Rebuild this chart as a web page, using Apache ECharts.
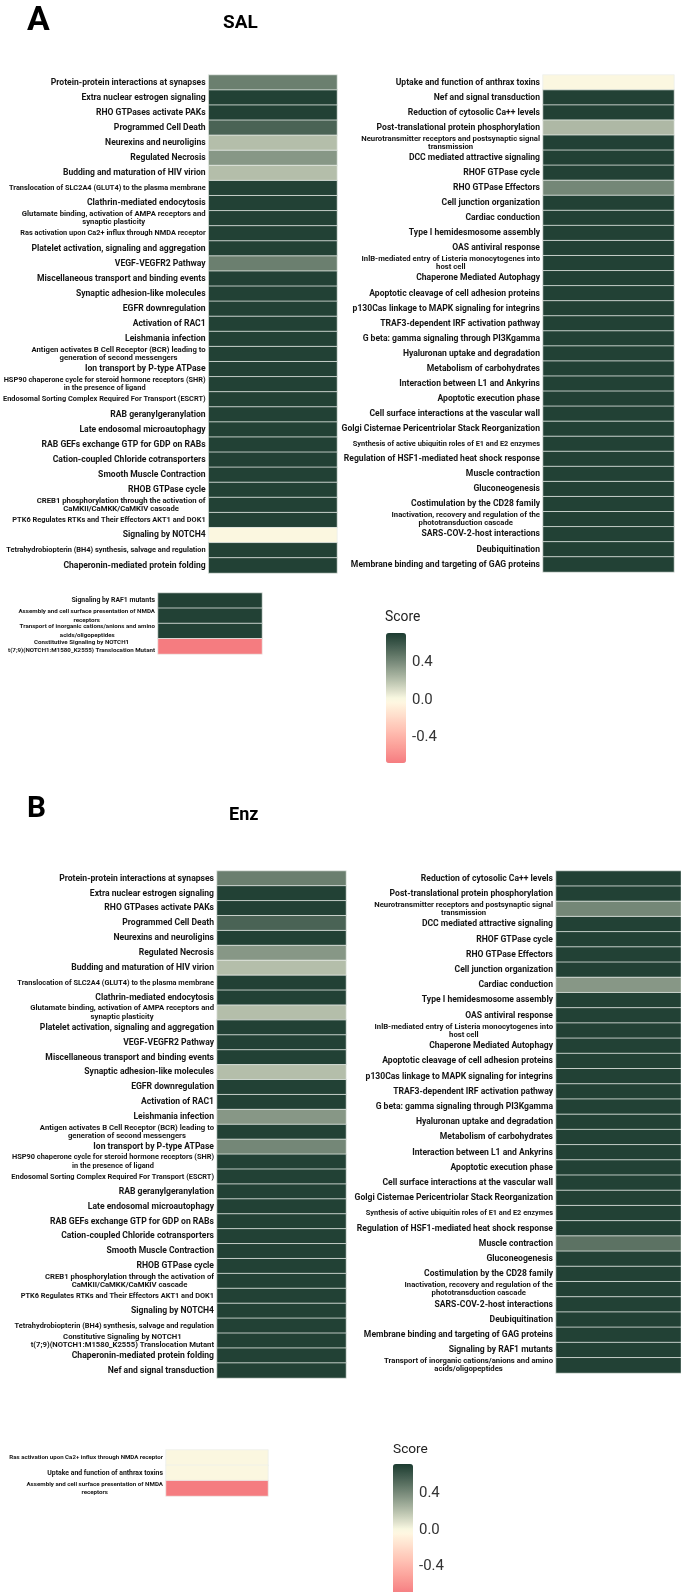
<!DOCTYPE html>
<html>
<head>
<meta charset="utf-8">
<title>Pathway scores – SAL / Enz</title>
<script src="https://cdn.jsdelivr.net/npm/echarts@6/dist/echarts.min.js"></script>
<style>
  html, body { margin: 0; padding: 0; background: #fff; }
  #chart { width: 681px; height: 1592px; }
</style>
</head>
<body>
<div id="chart"></div>
<script>
// ---- data ----
const salLeftLabels = [
  'Protein-protein interactions at synapses',
  'Extra nuclear estrogen signaling',
  'RHO GTPases activate PAKs',
  'Programmed Cell Death',
  'Neurexins and neuroligins',
  'Regulated Necrosis',
  'Budding and maturation of HIV virion',
  'Translocation of SLC2A4 (GLUT4) to the plasma membrane',
  'Clathrin-mediated endocytosis',
  'Glutamate binding, activation of AMPA receptors and\nsynaptic plasticity',
  'Ras activation upon Ca2+ influx through NMDA receptor',
  'Platelet activation, signaling and aggregation',
  'VEGF-VEGFR2 Pathway',
  'Miscellaneous transport and binding events',
  'Synaptic adhesion-like molecules',
  'EGFR downregulation',
  'Activation of RAC1',
  'Leishmania infection',
  'Antigen activates B Cell Receptor (BCR) leading to\ngeneration of second messengers',
  'Ion transport by P-type ATPase',
  'HSP90 chaperone cycle for steroid hormone receptors (SHR)\nin the presence of ligand',
  'Endosomal Sorting Complex Required For Transport (ESCRT)',
  'RAB geranylgeranylation',
  'Late endosomal microautophagy',
  'RAB GEFs exchange GTP for GDP on RABs',
  'Cation-coupled Chloride cotransporters',
  'Smooth Muscle Contraction',
  'RHOB GTPase cycle',
  'CREB1 phosphorylation through the activation of\nCaMKII/CaMKK/CaMKIV cascade',
  'PTK6 Regulates RTKs and Their Effectors AKT1 and DOK1',
  'Signaling by NOTCH4',
  'Tetrahydrobiopterin (BH4) synthesis, salvage and regulation',
  'Chaperonin-mediated protein folding'
];
const salLeftScores = [
  0.45, 0.7, 0.7, 0.56, 0.22, 0.36, 0.22, 0.7, 0.7, 0.7, 0.7,
  0.7, 0.45, 0.7, 0.7, 0.7, 0.7, 0.7, 0.7, 0.7, 0.7, 0.7,
  0.7, 0.7, 0.7, 0.7, 0.7, 0.7, 0.7, 0.7, 0.0, 0.7, 0.7
];

const salRightLabels = [
  'Uptake and function of anthrax toxins',
  'Nef and signal transduction',
  'Reduction of cytosolic Ca++ levels',
  'Post-translational protein phosphorylation',
  'Neurotransmitter receptors and postsynaptic signal\ntransmission',
  'DCC mediated attractive signaling',
  'RHOF GTPase cycle',
  'RHO GTPase Effectors',
  'Cell junction organization',
  'Cardiac conduction',
  'Type I hemidesmosome assembly',
  'OAS antiviral response',
  'InlB-mediated entry of Listeria monocytogenes into\nhost cell',
  'Chaperone Mediated Autophagy',
  'Apoptotic cleavage of cell adhesion proteins',
  'p130Cas linkage to MAPK signaling for integrins',
  'TRAF3-dependent IRF activation pathway',
  'G beta: gamma signaling through PI3Kgamma',
  'Hyaluronan uptake and degradation',
  'Metabolism of carbohydrates',
  'Interaction between L1 and Ankyrins',
  'Apoptotic execution phase',
  'Cell surface interactions at the vascular wall',
  'Golgi Cisternae Pericentriolar Stack Reorganization',
  'Synthesis of active ubiquitin roles of E1 and E2 enzymes',
  'Regulation of HSF1-mediated heat shock response',
  'Muscle contraction',
  'Gluconeogenesis',
  'Costimulation by the CD28 family',
  'Inactivation, recovery and regulation of the\nphototransduction cascade',
  'SARS-COV-2-host interactions',
  'Deubiquitination',
  'Membrane binding and targeting of GAG proteins'
];
const salRightScores = [
  0.0, 0.7, 0.7, 0.24, 0.7, 0.7, 0.7, 0.42, 0.7, 0.7, 0.7,
  0.7, 0.7, 0.7, 0.7, 0.7, 0.7, 0.7, 0.7, 0.7, 0.7, 0.7,
  0.7, 0.7, 0.7, 0.7, 0.7, 0.7, 0.7, 0.7, 0.7, 0.7, 0.7
];

const salExtraLabels = [
  'Signaling by RAF1 mutants',
  'Assembly and cell surface presentation of NMDA\nreceptors',
  'Transport of inorganic cations/anions and amino\nacids/oligopeptides',
  'Constitutive Signaling by NOTCH1\nt(7;9)(NOTCH1:M1580_K2555) Translocation Mutant'
];
const salExtraScores = [0.7, 0.7, 0.7, -0.68];

const enzLeftLabels = [
  'Protein-protein interactions at synapses',
  'Extra nuclear estrogen signaling',
  'RHO GTPases activate PAKs',
  'Programmed Cell Death',
  'Neurexins and neuroligins',
  'Regulated Necrosis',
  'Budding and maturation of HIV virion',
  'Translocation of SLC2A4 (GLUT4) to the plasma membrane',
  'Clathrin-mediated endocytosis',
  'Glutamate binding, activation of AMPA receptors and\nsynaptic plasticity',
  'Platelet activation, signaling and aggregation',
  'VEGF-VEGFR2 Pathway',
  'Miscellaneous transport and binding events',
  'Synaptic adhesion-like molecules',
  'EGFR downregulation',
  'Activation of RAC1',
  'Leishmania infection',
  'Antigen activates B Cell Receptor (BCR) leading to\ngeneration of second messengers',
  'Ion transport by P-type ATPase',
  'HSP90 chaperone cycle for steroid hormone receptors (SHR)\nin the presence of ligand',
  'Endosomal Sorting Complex Required For Transport (ESCRT)',
  'RAB geranylgeranylation',
  'Late endosomal microautophagy',
  'RAB GEFs exchange GTP for GDP on RABs',
  'Cation-coupled Chloride cotransporters',
  'Smooth Muscle Contraction',
  'RHOB GTPase cycle',
  'CREB1 phosphorylation through the activation of\nCaMKII/CaMKK/CaMKIV cascade',
  'PTK6 Regulates RTKs and Their Effectors AKT1 and DOK1',
  'Signaling by NOTCH4',
  'Tetrahydrobiopterin (BH4) synthesis, salvage and regulation',
  'Constitutive Signaling by NOTCH1\nt(7;9)(NOTCH1:M1580_K2555) Translocation Mutant',
  'Chaperonin-mediated protein folding',
  'Nef and signal transduction'
];
const enzLeftScores = [
  0.45, 0.7, 0.7, 0.56, 0.7, 0.36, 0.22, 0.7, 0.7, 0.22, 0.7,
  0.7, 0.7, 0.22, 0.7, 0.7, 0.36, 0.7, 0.42, 0.7, 0.7, 0.7,
  0.7, 0.7, 0.7, 0.7, 0.7, 0.7, 0.7, 0.7, 0.7, 0.7, 0.7, 0.7
];

const enzRightLabels = [
  'Reduction of cytosolic Ca++ levels',
  'Post-translational protein phosphorylation',
  'Neurotransmitter receptors and postsynaptic signal\ntransmission',
  'DCC mediated attractive signaling',
  'RHOF GTPase cycle',
  'RHO GTPase Effectors',
  'Cell junction organization',
  'Cardiac conduction',
  'Type I hemidesmosome assembly',
  'OAS antiviral response',
  'InlB-mediated entry of Listeria monocytogenes into\nhost cell',
  'Chaperone Mediated Autophagy',
  'Apoptotic cleavage of cell adhesion proteins',
  'p130Cas linkage to MAPK signaling for integrins',
  'TRAF3-dependent IRF activation pathway',
  'G beta: gamma signaling through PI3Kgamma',
  'Hyaluronan uptake and degradation',
  'Metabolism of carbohydrates',
  'Interaction between L1 and Ankyrins',
  'Apoptotic execution phase',
  'Cell surface interactions at the vascular wall',
  'Golgi Cisternae Pericentriolar Stack Reorganization',
  'Synthesis of active ubiquitin roles of E1 and E2 enzymes',
  'Regulation of HSF1-mediated heat shock response',
  'Muscle contraction',
  'Gluconeogenesis',
  'Costimulation by the CD28 family',
  'Inactivation, recovery and regulation of the\nphototransduction cascade',
  'SARS-COV-2-host interactions',
  'Deubiquitination',
  'Membrane binding and targeting of GAG proteins',
  'Signaling by RAF1 mutants',
  'Transport of inorganic cations/anions and amino\nacids/oligopeptides'
];
const enzRightScores = [
  0.7, 0.7, 0.42, 0.7, 0.7, 0.7, 0.7, 0.36, 0.7, 0.7, 0.7,
  0.7, 0.7, 0.7, 0.7, 0.7, 0.7, 0.7, 0.7, 0.7, 0.7, 0.7,
  0.7, 0.7, 0.5, 0.7, 0.7, 0.7, 0.7, 0.7, 0.7, 0.7, 0.7
];

const enzExtraLabels = [
  'Ras activation upon Ca2+ influx through NMDA receptor',
  'Uptake and function of anthrax toxins',
  'Assembly and cell surface presentation of NMDA\nreceptors'
];
const enzExtraScores = [0.0, 0.0, -0.68];

const scoreMin = -0.68;
const scoreMax = 0.72;
const scoreTicks = [-0.4, 0, 0.4];

// ---- fonts: pick the installed sans whose proportions are closest to the
// figure's narrow bold face, then size text to the widths seen in the figure ----
const measureCtx = document.createElement('canvas').getContext('2d');
function hasFont(fam) {
  const s = 'abcdefghijklmnopqrstuvwxyzABCDEFGHIJ0123456789';
  measureCtx.font = 'bold 40px monospace';
  const w0 = measureCtx.measureText(s).width;
  measureCtx.font = "bold 40px '" + fam + "', monospace";
  return measureCtx.measureText(s).width !== w0;
}
function fitFor(fam, text, targetWidth, weight) {
  measureCtx.font = (weight || 'bold') + " 20px '" + fam + "', sans-serif";
  return 20 * targetWidth / measureCtx.measureText(text).width;
}
const candidates = [
  'Liberation Sans Narrow', 'Arial Narrow', 'Noto Sans ExtraCondensed', 'Noto Sans Condensed',
  'Noto Sans SemiCondensed', 'Roboto Condensed', 'DejaVu Sans Condensed', 'Liberation Sans', 'Roboto'
].filter(hasFont);
let FAMILY = candidates[0] || 'sans-serif';
let bestGap = Infinity;
candidates.forEach(f => {
  const gap = Math.abs(fitFor(f, 'Protein-protein interactions at synapses', 155) - 9);
  if (gap < bestGap) { bestGap = gap; FAMILY = f; }
});
const FONT = "'" + FAMILY + "', sans-serif";
function fitSize(text, targetWidth, weight) { return fitFor(FAMILY, text, targetWidth, weight); }

// ---- colours: ggplot-like gradient2 (interpolated in Lab) ----
const LOW = '#F3747A', MID = '#FFFDE6', HIGH = '#1C3C31';

function lin(c) { c /= 255; return c <= 0.04045 ? c / 12.92 : Math.pow((c + 0.055) / 1.055, 2.4); }
function unlin(c) {
  const v = c <= 0.0031308 ? 12.92 * c : 1.055 * Math.pow(c, 1 / 2.4) - 0.055;
  return Math.round(Math.max(0, Math.min(1, v)) * 255);
}
function toLab(hex) {
  const r = lin(parseInt(hex.slice(1, 3), 16)), g = lin(parseInt(hex.slice(3, 5), 16)), b = lin(parseInt(hex.slice(5, 7), 16));
  const X = (0.4124 * r + 0.3576 * g + 0.1805 * b) / 0.95047;
  const Y = 0.2126 * r + 0.7152 * g + 0.0722 * b;
  const Z = (0.0193 * r + 0.1192 * g + 0.9505 * b) / 1.08883;
  const f = t => t > 0.008856 ? Math.cbrt(t) : 7.787 * t + 16 / 116;
  return [116 * f(Y) - 16, 500 * (f(X) - f(Y)), 200 * (f(Y) - f(Z))];
}
function fromLab([L, a, b]) {
  const fy = (L + 16) / 116, fx = fy + a / 500, fz = fy - b / 200;
  const inv = t => t * t * t > 0.008856 ? t * t * t : (t - 16 / 116) / 7.787;
  const X = inv(fx) * 0.95047, Y = inv(fy), Z = inv(fz) * 1.08883;
  const r = 3.2406 * X - 1.5372 * Y - 0.4986 * Z;
  const g = -0.9689 * X + 1.8758 * Y + 0.0415 * Z;
  const bl = 0.0557 * X - 0.2040 * Y + 1.0570 * Z;
  return 'rgb(' + unlin(r) + ',' + unlin(g) + ',' + unlin(bl) + ')';
}
const labLow = toLab(LOW), labMid = toLab(MID), labHigh = toLab(HIGH);
const limit = Math.max(Math.abs(scoreMin), Math.abs(scoreMax));
function gradient2(v) {
  const t = Math.min(1, Math.abs(v) / limit);
  const end = v >= 0 ? labHigh : labLow;
  return fromLab(labMid.map((m, k) => m + (end[k] - m) * t));
}
const nStops = 29;
const colorStops = [];
for (let i = 0; i < nStops; i++) colorStops.push(gradient2(scoreMin + (scoreMax - scoreMin) * i / (nStops - 1)));

// ---- label styling ----
function richStyle(size, lineHeight) {
  return { fontSize: size, lineHeight: lineHeight, fontFamily: FONT, fontWeight: 'bold', color: '#141414', align: 'center' };
}
const rich = {
  n: richStyle(fitSize('Protein-protein interactions at synapses', 155), 10),
  w: richStyle(fitSize('Glutamate binding, activation of AMPA receptors and', 184), 8.3),
  s: richStyle(fitSize('Translocation of SLC2A4 (GLUT4) to the plasma membrane', 197), 8.3),
  bn: richStyle(fitSize('Uptake and function of anthrax toxins', 116), 9),
  bw: richStyle(fitSize('Assembly and cell surface presentation of NMDA', 137), 8.7),
  bs: richStyle(fitSize('Ras activation upon Ca2+ influx through NMDA receptor', 154), 9)
};

function labelFormatter(compact) {
  return function (value) {
    const lines = value.split('\n');
    const longest = Math.max.apply(null, lines.map(l => l.length));
    let key = longest > 52 ? 's' : (lines.length > 1 ? 'w' : 'n');
    if (compact) key = 'b' + key;
    return lines.map(l => '{' + key + '|' + l + '}').join('\n');
  };
}

// ---- layout of the heatmap blocks ----
const blocks = [
  { labels: salLeftLabels, scores: salLeftScores, box: { left: 207, top: 75, width: 130, height: 498 } },
  { labels: salRightLabels, scores: salRightScores, box: { left: 543, top: 75, width: 131, height: 497 } },
  { labels: salExtraLabels, scores: salExtraScores, box: { left: 158, top: 593, width: 104, height: 61 }, compact: true },
  { labels: enzLeftLabels, scores: enzLeftScores, box: { left: 217, top: 871, width: 129, height: 507 } },
  { labels: enzRightLabels, scores: enzRightScores, box: { left: 556, top: 871, width: 125, height: 502 } },
  { labels: enzExtraLabels, scores: enzExtraScores, box: { left: 166, top: 1450, width: 102, height: 46 }, compact: true }
];
const legends = [
  { left: 386, top: 633, width: 20, height: 130, series: [0, 1, 2] },
  { left: 393, top: 1464, width: 20, height: 130, series: [3, 4, 5] }
];

const grid = [], xAxis = [], yAxis = [], series = [];
blocks.forEach((b, i) => {
  grid.push(Object.assign({ containLabel: false }, b.box));
  xAxis.push({ type: 'category', gridIndex: i, data: ['score'], show: false });
  yAxis.push({
    type: 'category', gridIndex: i, data: b.labels, inverse: true,
    axisLine: { show: false }, axisTick: { show: false }, splitLine: { show: false },
    axisLabel: { interval: 0, margin: 3, formatter: labelFormatter(b.compact), rich: rich }
  });
  series.push({
    type: 'heatmap', xAxisIndex: i, yAxisIndex: i,
    data: b.scores.map((v, k) => [0, k, v]),
    itemStyle: { borderColor: 'rgba(236,240,236,0.95)', borderWidth: 0.8 },
    emphasis: { disabled: true }, silent: true, progressive: 0
  });
});

// colour-bar axes (tick labels for the legend bars)
const legendFont = (fitSize('0.4', 18, 'normal') + 17) / 2;
legends.forEach(lg => {
  const gi = grid.length;
  grid.push({ left: lg.left, top: lg.top, width: lg.width, height: lg.height });
  xAxis.push({ type: 'value', gridIndex: gi, show: false });
  const tickStyle = { show: true, inside: true, length: 4, customValues: scoreTicks, lineStyle: { color: '#fff', width: 1 } };
  yAxis.push({
    type: 'value', gridIndex: gi, position: 'left', min: scoreMin, max: scoreMax,
    axisLine: { show: false }, splitLine: { show: false }, axisLabel: { show: false }, axisTick: tickStyle
  });
  yAxis.push({
    type: 'value', gridIndex: gi, position: 'right', min: scoreMin, max: scoreMax,
    axisLine: { show: false }, splitLine: { show: false }, axisTick: tickStyle,
    axisLabel: {
      customValues: scoreTicks, margin: 6, fontSize: legendFont, fontFamily: FONT, color: '#333',
      formatter: v => v.toFixed(1)
    }
  });
});

const visualMap = legends.map(lg => ({
  type: 'continuous', seriesIndex: lg.series, min: scoreMin, max: scoreMax,
  inRange: { color: colorStops }, left: lg.left, top: lg.top,
  itemWidth: lg.width, itemHeight: lg.height, padding: 0,
  calculable: false, hoverLink: false, text: null, orient: 'vertical'
}));

function titleStyle(text, width, nominal, weight) {
  const size = (fitSize(text, width, weight) + nominal) / 2;
  return { fontSize: size, fontWeight: weight, fontFamily: FONT, color: '#000' };
}
const title = [
  { text: 'A', left: 27, top: 5, padding: 0, textStyle: titleStyle('A', 20, 38, 'bold') },
  { text: 'SAL', left: 223, top: 14, padding: 0, textStyle: titleStyle('SAL', 31, 21, 'bold') },
  { text: 'Score', left: 385, top: 611, padding: 0, textStyle: Object.assign(titleStyle('Score', 30, 16, 'normal'), { color: '#222' }) },
  { text: 'B', left: 27, top: 795, padding: 0, textStyle: titleStyle('B', 17, 33, 'bold') },
  { text: 'Enz', left: 229, top: 806, padding: 0, textStyle: titleStyle('Enz', 27, 19.5, 'bold') },
  { text: 'Score', left: 393, top: 1443, padding: 0, textStyle: Object.assign(titleStyle('Score', 29, 16, 'normal'), { color: '#222' }) }
];

const chart = echarts.init(document.getElementById('chart'));
chart.setOption({
  animation: false,
  backgroundColor: '#fff',
  title: title,
  grid: grid,
  xAxis: xAxis,
  yAxis: yAxis,
  visualMap: visualMap,
  series: series
});
</script>
</body>
</html>
